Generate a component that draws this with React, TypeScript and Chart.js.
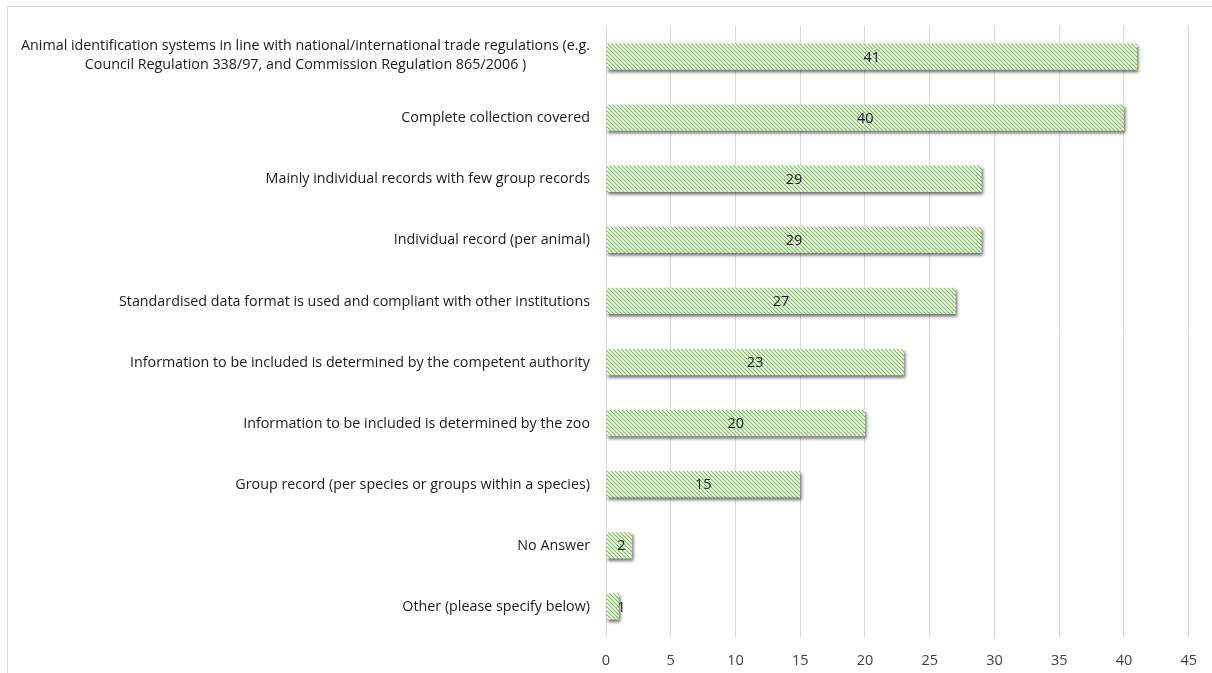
import React, { useEffect, useRef } from "react";
import { Chart, registerables } from "chart.js";

Chart.register(...registerables);

const categories: (string | string[])[] = [
  [
    "Animal identification systems in line with national/international trade regulations (e.g.",
    "Council Regulation 338/97, and Commission Regulation 865/2006 )",
  ],
  "Complete collection covered",
  "Mainly individual records with few group records",
  "Individual record (per animal)",
  "Standardised data format is used and compliant with other institutions",
  "Information to be included is determined by the competent authority",
  "Information to be included is determined by the zoo",
  "Group record (per species or groups within a species)",
  "No Answer",
  "Other (please specify below)",
];
const values: number[] = [41, 40, 29, 29, 27, 23, 20, 15, 2, 1];
const xTicks: number[] = [0, 5, 10, 15, 20, 25, 30, 35, 40, 45];

const LABEL_FONT = '14.3px "Open Sans", "Noto Sans", sans-serif';
const VALUE_FONT = '14.5px "Open Sans", "Noto Sans", sans-serif';

function makePattern(): CanvasPattern | string {
  const c = document.createElement("canvas");
  c.width = 4;
  c.height = 4;
  const g = c.getContext("2d");
  if (!g) return "#a9d18e";
  g.fillStyle = "#ffffff";
  g.fillRect(0, 0, 4, 4);
  g.strokeStyle = "#78b85a";
  g.lineWidth = 1.2;
  g.beginPath();
  g.moveTo(-1, -1);
  g.lineTo(5, 5);
  g.moveTo(-3, 1);
  g.lineTo(3, 7);
  g.moveTo(1, -3);
  g.lineTo(7, 3);
  g.stroke();
  const p = g.createPattern(c, "repeat");
  return p || "#a9d18e";
}

export default function App() {
  const ref = useRef<HTMLCanvasElement | null>(null);

  useEffect(() => {
    document.body.style.margin = "0";
    const canvas = ref.current;
    if (!canvas) return;

    const frame = {
      id: "frame",
      beforeDraw(chart: any) {
        const ctx = chart.ctx;
        ctx.save();
        ctx.fillStyle = "#ffffff";
        ctx.fillRect(0, 0, chart.width, chart.height);
        ctx.strokeStyle = "#d9d9d9";
        ctx.lineWidth = 1;
        ctx.beginPath();
        ctx.moveTo(7.5, chart.height + 2);
        ctx.lineTo(7.5, 6.5);
        ctx.lineTo(chart.width + 2, 6.5);
        ctx.stroke();
        ctx.restore();
      },
    };

    const shadow = {
      id: "barShadow",
      beforeDatasetsDraw(chart: any) {
        const ctx = chart.ctx;
        ctx.save();
        ctx.shadowColor = "rgba(0,0,0,0.55)";
        ctx.shadowBlur = 3;
        ctx.shadowOffsetX = 1.5;
        ctx.shadowOffsetY = 2.5;
      },
      afterDatasetsDraw(chart: any) {
        chart.ctx.restore();
        const ctx = chart.ctx;
        // value labels
        ctx.save();
        ctx.font = VALUE_FONT;
        ctx.fillStyle = "#1a1a1a";
        ctx.textAlign = "center";
        ctx.textBaseline = "middle";
        const meta = chart.getDatasetMeta(0);
        meta.data.forEach((bar: any, i: number) => {
          const txt = String(values[i]);
          const center = (bar.x + bar.base) / 2;
          const x = Math.max(center, bar.base + 15);
          ctx.fillText(txt, x, bar.y + 1);
        });
        ctx.restore();
        // category labels
        const yScale = chart.scales.y;
        ctx.save();
        ctx.font = LABEL_FONT;
        ctx.fillStyle = "#1a1a1a";
        ctx.textBaseline = "middle";
        ctx.textAlign = "center";
        const right = 590;
        const lh = 19;
        categories.forEach((lab, i) => {
          const lines = Array.isArray(lab) ? lab : [lab];
          const w = Math.max(...lines.map((l) => ctx.measureText(l).width));
          const cx = right - w / 2;
          const off = lines.length > 1 ? -1.5 : 0.5;
          const y0 = yScale.getPixelForTick(i) - ((lines.length - 1) * lh) / 2 + off;
          lines.forEach((l, k) => ctx.fillText(l, cx, y0 + k * lh));
        });
        ctx.restore();
      },
    };

    const chart = new Chart(canvas, {
      type: "bar",
      data: {
        labels: categories.map((c) => (Array.isArray(c) ? c.join(" ") : c)),
        datasets: [
          {
            data: values,
            backgroundColor: makePattern() as any,
            borderWidth: 0,
            barPercentage: 0.43,
            categoryPercentage: 1,
          },
        ],
      },
      options: {
        indexAxis: "y",
        animation: false,
        responsive: false,
        maintainAspectRatio: false,
        layout: { padding: { top: 26, right: 23, left: 0, bottom: 0 } },
        plugins: { legend: { display: false }, tooltip: { enabled: false } },
        scales: {
          x: {
            min: 0,
            max: 45,
            afterBuildTicks: (s: any) => {
              s.ticks = xTicks.map((v) => ({ value: v }));
            },
            afterFit: (s: any) => {
              s.height = 36;
            },
            grid: { color: "#d9d9d9", drawTicks: false },
            border: { display: false },
            ticks: {
              padding: 15,
              color: "#404040",
              font: { family: '"Open Sans", "Noto Sans", sans-serif', size: 14.5 },
            },
          },
          y: {
            afterFit: (s: any) => {
              s.width = 606;
            },
            grid: { display: false },
            border: { display: false },
            ticks: { display: false },
          },
        },
      },
      plugins: [frame, shadow],
    });
    return () => chart.destroy();
  }, []);

  return (
    <div style={{ width: 1212, height: 673, position: "relative" }}>
      <canvas ref={ref} width={1212} height={673} style={{ display: "block" }} />
    </div>
  );
}
